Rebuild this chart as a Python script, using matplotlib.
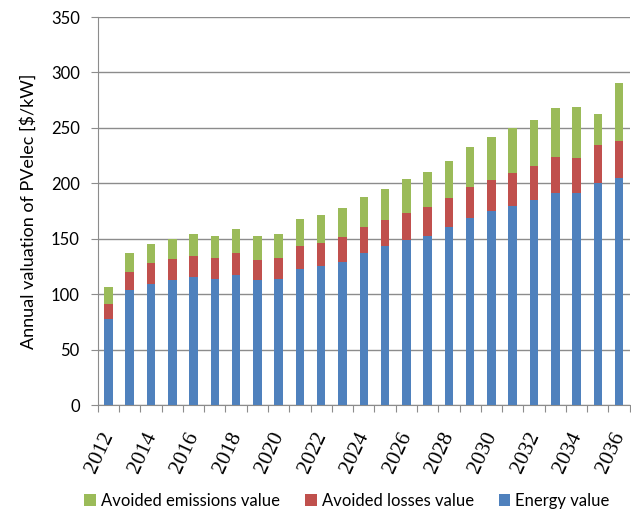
import matplotlib.pyplot as plt
import matplotlib.transforms as mtransforms
import numpy as np

plt.rcParams['font.family'] = ['Lato', 'DejaVu Sans']

years = list(range(2012, 2037))
energy = [78, 103.5, 109.5, 112.5, 115.5, 113.4, 117.6, 112.5, 113.4, 122.4, 125.4, 129.3,
          137.4, 143.4, 148.5, 152.4, 160.5, 168.6, 174.6, 179.4, 185.4, 191.4, 191.4, 200.4, 204.6]
totals_red = [91.5, 120, 128, 131.4, 134.4, 132.6, 137.4, 130.5, 132.6, 143.4, 146.4, 151.5,
              160.5, 166.5, 173.4, 178.5, 186.6, 196.5, 203.4, 209.4, 215.4, 223.5, 222.6, 234.6, 238.5]
totals_all = [106.5, 137.4, 145.5, 150, 154.5, 152.4, 158.4, 152.4, 154.5, 167.4, 171.6, 177.3,
              187.5, 195, 204, 210, 220.5, 232.5, 241.5, 249.6, 257.4, 267.6, 268.5, 262.5, 290.4]

losses = np.array(totals_red) - np.array(energy)
emissions = np.array(totals_all) - np.array(totals_red)

blue = '#4F81BD'
red = '#C0504D'
green = '#9BBB59'

fig = plt.figure(figsize=(6.31, 5.16), dpi=100)
ax = fig.add_axes([0.155, 0.215, 0.843, 0.752])

x = np.arange(len(years))
w = 0.4
ax.bar(x, energy, w, color=blue, label='Energy value', zorder=3)
ax.bar(x, losses, w, bottom=energy, color=red, label='Avoided losses value', zorder=3)
ax.bar(x, emissions, w, bottom=totals_red, color=green, label='Avoided emissions value', zorder=3)

ax.set_xlim(-0.5, len(years) - 0.5)
ax.set_ylim(0, 350)
ax.set_yticks(range(0, 351, 50))
ax.yaxis.grid(True, color='#8c8c8c', linewidth=1, zorder=0)

for s in ['top', 'right']:
    ax.spines[s].set_visible(False)
ax.spines['left'].set_color('#8c8c8c')
ax.spines['bottom'].set_color('#8c8c8c')

ax.set_xticks(np.arange(-0.5, len(years), 1))
ax.set_xticklabels([])
ax.tick_params(axis='x', length=5, color='#8c8c8c')
ax.tick_params(axis='y', length=5, color='#8c8c8c', labelsize=12, pad=8)

# year labels under every other bar, serif and slanted like the original
trans = ax.get_xaxis_transform() + mtransforms.ScaledTranslation(0.5 / 72, -20 / 72, fig.dpi_scale_trans)
for i, yr in enumerate(years):
    if i % 2 == 0:
        ax.text(i, 0, str(yr), rotation=65, ha='right', va='center', fontsize=15.5,
                family='Liberation Serif', rotation_mode='anchor', transform=trans)

ax.set_ylabel('Annual valuation of PVelec [$/kW]', fontsize=13, labelpad=10)

handles, labels = ax.get_legend_handles_labels()
fig.legend(handles[::-1], labels[::-1], loc='lower center', bbox_to_anchor=(0.55, -0.015),
           ncol=3, frameon=False, fontsize=12, handlelength=0.7, handleheight=0.7,
           handletextpad=0.3, columnspacing=1.5)

fig.savefig('out.png', dpi=100)
